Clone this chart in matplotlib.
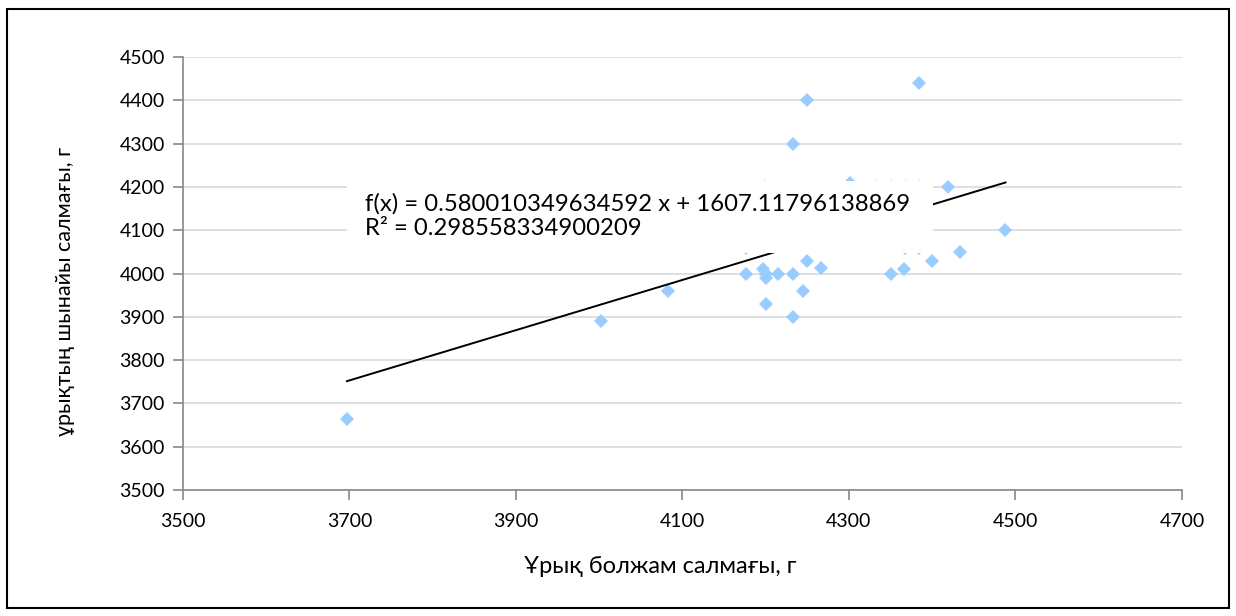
import matplotlib.pyplot as plt
from matplotlib.patches import Rectangle

plt.rcParams['font.family'] = ['Lato', 'DejaVu Sans']

# predicted weight (x) vs actual weight (y), grams
x_pred = [3697, 4002, 4083, 4176, 4197, 4200, 4200, 4215, 4233, 4250,
          4267, 4245, 4200, 4233, 4350, 4366, 4400, 4433,
          4250, 4233, 4384, 4419, 4488,
          4199, 4301, 4333, 4350, 4368, 4384,
          4176, 4367, 4384]
y_real = [3664, 3890, 3960, 4000, 4010, 4000, 3990, 4000, 4000, 4030,
          4012, 3960, 3930, 3900, 4000, 4010, 4030, 4050,
          4400, 4300, 4440, 4200, 4100,
          4200, 4210, 4200, 4200, 4200, 4200,
          4060, 4060, 4060]

slope = 0.580010349634592
intercept = 1607.11796138869
r2 = 0.298558334900209

fig = plt.figure(figsize=(12.36, 6.16), dpi=100)
ax = fig.add_axes([0.148, 0.2045, 0.8083, 0.703])

ax.plot(x_pred, y_real, 'D', color='#99ccff', ms=6.8, mew=0, zorder=3)

x0, x1 = min(x_pred), max(x_pred)
ax.plot([x0, x1], [slope * x0 + intercept, slope * x1 + intercept],
        color='black', linewidth=1.4, zorder=4)

# white box behind the equation (hides what is under it)
ax.add_patch(Rectangle((0.164, 0.5474), 0.5867, 0.1663, transform=ax.transAxes,
                       facecolor='white', edgecolor='none', zorder=5))
ax.text(0.1822, 0.661, 'f(x) = %s x + %s' % (slope, intercept),
        transform=ax.transAxes, fontsize=17.2, va='center', zorder=6)
ax.text(0.1822, 0.603, 'R² = %s' % r2,
        transform=ax.transAxes, fontsize=17.2, va='center', zorder=6)

ax.set_xlim(3500, 4700)
ax.set_ylim(3500, 4500)
ax.set_xticks(range(3500, 4701, 200))
ax.set_yticks(range(3500, 4501, 100))
ax.grid(axis='y', color='#d9d9d9', linewidth=1.2, zorder=0)
ax.set_axisbelow(True)
for s in ['top', 'right']:
    ax.spines[s].set_visible(False)
for s in ['left', 'bottom']:
    ax.spines[s].set_color('#888888')
    ax.spines[s].set_linewidth(1.2)
ax.tick_params(axis='both', colors='#888888', labelcolor='black', labelsize=14,
               length=7.5, width=1.2)
ax.tick_params(axis='y', pad=5.5)
ax.tick_params(axis='x', pad=9)

fig.text(0.0526, 0.527, 'ұрықтың шынайы салмағы, г', rotation=90,
         fontsize=15.5, ha='center', va='center')
fig.text(0.534, 0.081, 'Ұрық болжам салмағы, г', fontsize=17,
         ha='center', va='center')

fig.add_artist(Rectangle((0.006, 0.013), 0.988, 0.973, transform=fig.transFigure,
                         facecolor='none', edgecolor='black', linewidth=1.5))

fig.savefig('out.png', dpi=100)
